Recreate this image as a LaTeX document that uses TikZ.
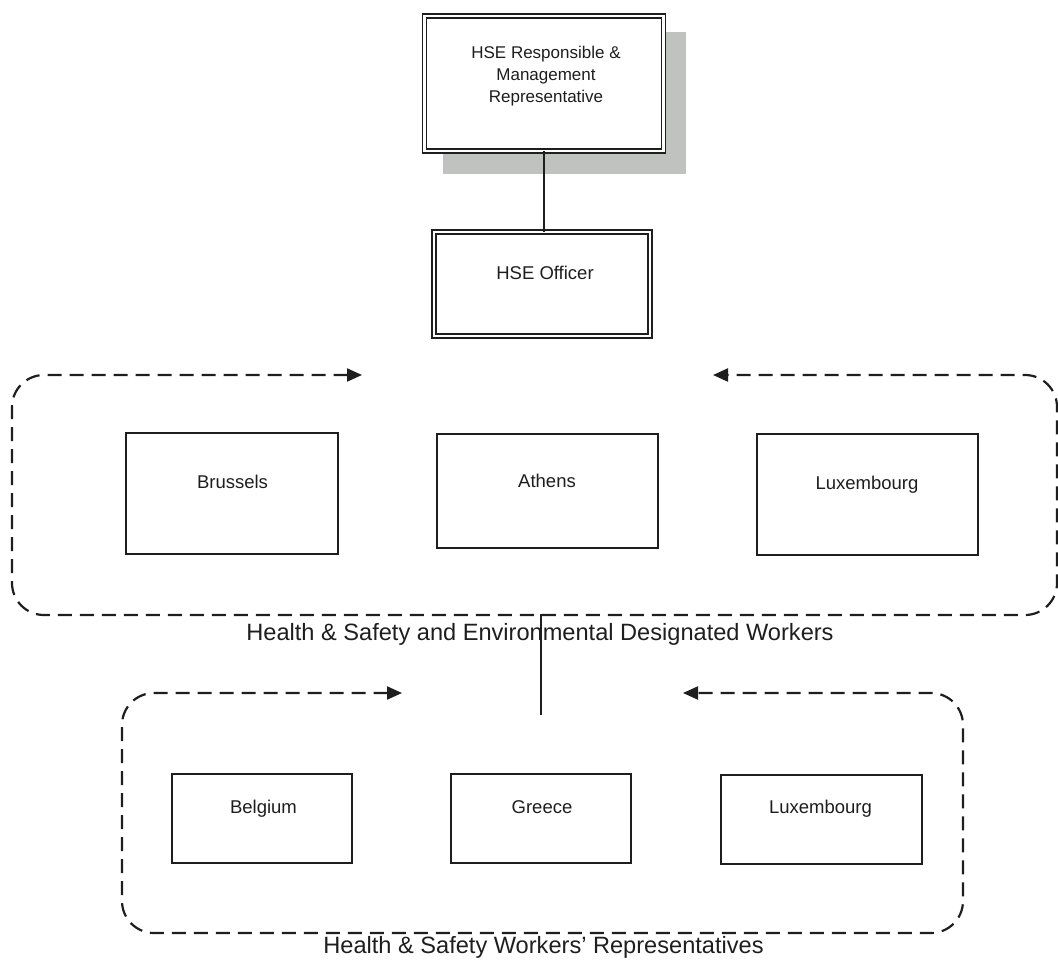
\documentclass[tikz,border=0pt]{standalone}
\usepackage{fontspec}
\setmainfont{Liberation Sans}
\usetikzlibrary{arrows.meta}
\definecolor{shadowgray}{RGB}{192,194,192}
\definecolor{ink}{RGB}{30,30,30}
\begin{document}
\begin{tikzpicture}[x=1pt,y=-1pt,
  box/.style={draw=ink, line width=1.8pt, fill=white, inner sep=0pt, outer sep=0pt},
  dbox/.style={draw=ink, line width=1.5pt, double=white, double distance=2.6pt, fill=white, inner sep=0pt, outer sep=0pt},
  boxtext/.style={anchor=base, text=ink, font=\fontsize{18.5}{22}\selectfont, inner sep=0pt},
  grouplabel/.style={anchor=base, text=ink, font=\fontsize{23.6}{28}\selectfont, inner sep=0pt},
  groupline/.style={draw=ink, line width=2.2pt, dash pattern=on 14pt off 8pt, rounded corners=32pt,
    {Triangle[length=15pt,width=13pt,sharp]}-{Triangle[length=15pt,width=13pt,sharp]}},
  link/.style={draw=ink, line width=1.8pt}]
\useasboundingbox (0,0) rectangle (1058,959);

% top box with shadow
\node[fill=shadowgray, inner sep=0pt, minimum width=243pt, minimum height=142pt] (shadow) at (564.5,103) {};
\node[dbox, minimum width=239pt, minimum height=135pt] (top) at (544,83.5) {};
\node[boxtext, font=\fontsize{17}{22}\selectfont, align=center] (toptext) at (546,102) {HSE Responsible \&\\Management\\Representative};

% officer
\node[dbox, minimum width=216pt, minimum height=104pt] (officer) at (542,284) {};
\node[boxtext] (officertext) at (545,279.5) {HSE Officer};
\draw[link] (top.south) -- (top.south |- officer.north);

% group 1
\draw[groupline] (362,375) -- (12,375) -- (12,615) -- (1057,615) -- (1057,375) -- (713,375);
\node[box, minimum width=212pt, minimum height=121pt] (brussels) at (232,493.5) {};
\node[boxtext] (brusselstext) at (232.5,488.5) {Brussels};
\node[box, minimum width=221pt, minimum height=114pt] (athens) at (547.5,491) {};
\node[boxtext] (athenstext) at (547,487.5) {Athens};
\node[box, minimum width=221pt, minimum height=121pt] (luxa) at (867.5,494.5) {};
\node[boxtext] (luxatext) at (867,489) {Luxembourg};
\node[grouplabel] (g1label) at (540,640) {Health \& Safety and Environmental Designated Workers};

% connector between groups
\coordinate (g1b) at (541,614);
\coordinate (g2t) at (541,715);
\draw[link] (g1b) -- (g2t);

% group 2
\draw[groupline] (402,693) -- (122,693) -- (122,933) -- (963,933) -- (963,693) -- (683,693);
\node[box, minimum width=180pt, minimum height=89pt] (belgium) at (262,818.5) {};
\node[boxtext] (belgiumtext) at (263.5,813.5) {Belgium};
\node[box, minimum width=180pt, minimum height=89pt] (greece) at (541,818.5) {};
\node[boxtext] (greecetext) at (542,813.5) {Greece};
\node[box, minimum width=201pt, minimum height=89pt] (luxb) at (821.5,819.5) {};
\node[boxtext] (luxbtext) at (820.5,813.5) {Luxembourg};
\node[grouplabel] (g2label) at (543.5,953) {Health \& Safety Workers' Representatives};
\end{tikzpicture}
\end{document}
